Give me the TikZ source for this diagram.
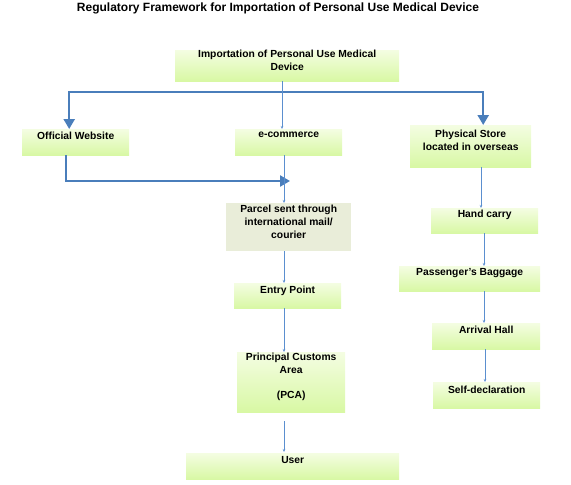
\documentclass[tikz,border=0pt]{standalone}
\usepackage{fontspec}
\setmainfont{Liberation Sans}
\usetikzlibrary{arrows.meta}
\definecolor{boxtop}{HTML}{F4FDE2}
\definecolor{boxbot}{HTML}{D8F8A4}
\definecolor{parcelc}{HTML}{E9EDD9}
\definecolor{thickb}{HTML}{4A7EBB}
\definecolor{thinb}{HTML}{5B8FCF}
\tikzset{
  gbox/.style={draw=none, rectangle, top color=boxtop, bottom color=boxbot, anchor=north west, inner sep=0pt},
  pbox/.style={draw=none, rectangle, fill=parcelc, anchor=north west, inner sep=0pt},
  txt/.style={anchor=north, align=center, inner sep=0pt, font=\fontsize{10.3}{13}\selectfont\bfseries},
  thick arrow/.style={draw=thickb, line width=2.4pt, -{Triangle[length=10pt,width=11pt]}},
  thin arrow/.style={draw=thinb, line width=0.9pt, -{Stealth[length=3pt,width=2.5pt]}},
}
\begin{document}
\begin{tikzpicture}[x=1pt,y=-1pt]
\useasboundingbox (0,0) rectangle (571,485);
\node[anchor=base, inner sep=0pt, font=\fontsize{12}{14}\selectfont\bfseries] (title) at (278,11.5) {Regulatory Framework for Importation of Personal Use Medical Device};
% boxes
\node[gbox, minimum width=224pt, minimum height=31pt] (imp) at (175,50) {};
\node[txt] (impT) at ([yshift=0pt]imp.north) {Importation of Personal Use Medical\\Device};
\node[gbox, minimum width=107pt, minimum height=26pt] (ow) at (22,129) {};
\node[txt] (owT) at ([yshift=-3pt]ow.north) {Official Website};
\node[gbox, minimum width=107pt, minimum height=26pt] (ec) at (235,129) {};
\node[txt] (ecT) at ([yshift=-3pt]ec.north) {e-commerce};
\node[gbox, minimum width=121pt, minimum height=42pt] (ps) at (410,125) {};
\node[txt] (psT) at ([yshift=-5pt]ps.north) {Physical Store\\located in overseas};
\node[pbox, minimum width=125pt, minimum height=48pt] (pc) at (226,203) {};
\node[txt] (pcT) at ([yshift=-2pt]pc.north) {Parcel sent through\\international mail/\\courier};
\node[gbox, minimum width=107pt, minimum height=25pt] (ep) at (234,283) {};
\node[txt] (epT) at ([yshift=-3pt]ep.north) {Entry Point};
\node[gbox, minimum width=108pt, minimum height=60pt] (pca) at (237,352) {};
\node[txt] (pcaT) at ([yshift=-1pt]pca.north) {Principal Customs\\Area\\[12pt](PCA)};
\node[gbox, minimum width=213pt, minimum height=26pt] (us) at (186,453) {};
\node[txt] (usT) at ([yshift=-3pt]us.north) {User};
\node[gbox, minimum width=107pt, minimum height=25pt] (hc) at (431,208) {};
\node[txt] (hcT) at ([yshift=-2pt]hc.north) {Hand carry};
\node[gbox, minimum width=141pt, minimum height=25pt] (pb) at (399,266) {};
\node[txt] (pbT) at ([yshift=-2pt]pb.north) {Passenger’s Baggage};
\node[gbox, minimum width=108pt, minimum height=26pt] (ah) at (432,323) {};
\node[txt] (ahT) at ([yshift=-3pt]ah.north) {Arrival Hall};
\node[gbox, minimum width=107pt, minimum height=26pt] (sd) at (433,382) {};
\node[txt] (sdT) at ([yshift=-4pt]sd.north) {Self-declaration};
% coordinates
\coordinate (split) at (284,92);
\coordinate (owin) at (290,181);
% thick connectors
\draw[thick arrow] (split) -| ([xshift=-6.5pt]ow.north);
\draw[thick arrow] (split) -| ([xshift=12.5pt]ps.north);
\draw[thick arrow] ([xshift=-9.5pt]ow.south) |- (owin);
% thin connectors
\draw[thin arrow] (imp.south -| 282,0) -- (ec.north -| 282,0);
\draw[thin arrow] (ec.south -| 284,0) -- (pc.north -| 284,0);
\draw[thin arrow] (pc.south -| 284,0) -- (ep.north -| 284,0);
\draw[thin arrow] (ep.south -| 284,0) -- (pca.north -| 284,0);
\draw[thin arrow] ([yshift=-9pt]pca.south -| 284,0) -- ([yshift=1pt]us.north -| 284,0);
\draw[thin arrow] (ps.south -| 481,0) -- (hc.north -| 481,0);
\draw[thin arrow] (hc.south -| 484,0) -- (pb.north -| 484,0);
\draw[thin arrow] (pb.south -| 484,0) -- (ah.north -| 484,0);
\draw[thin arrow] (ah.south -| 485,0) -- (sd.north -| 485,0);
\end{tikzpicture}
\end{document}
